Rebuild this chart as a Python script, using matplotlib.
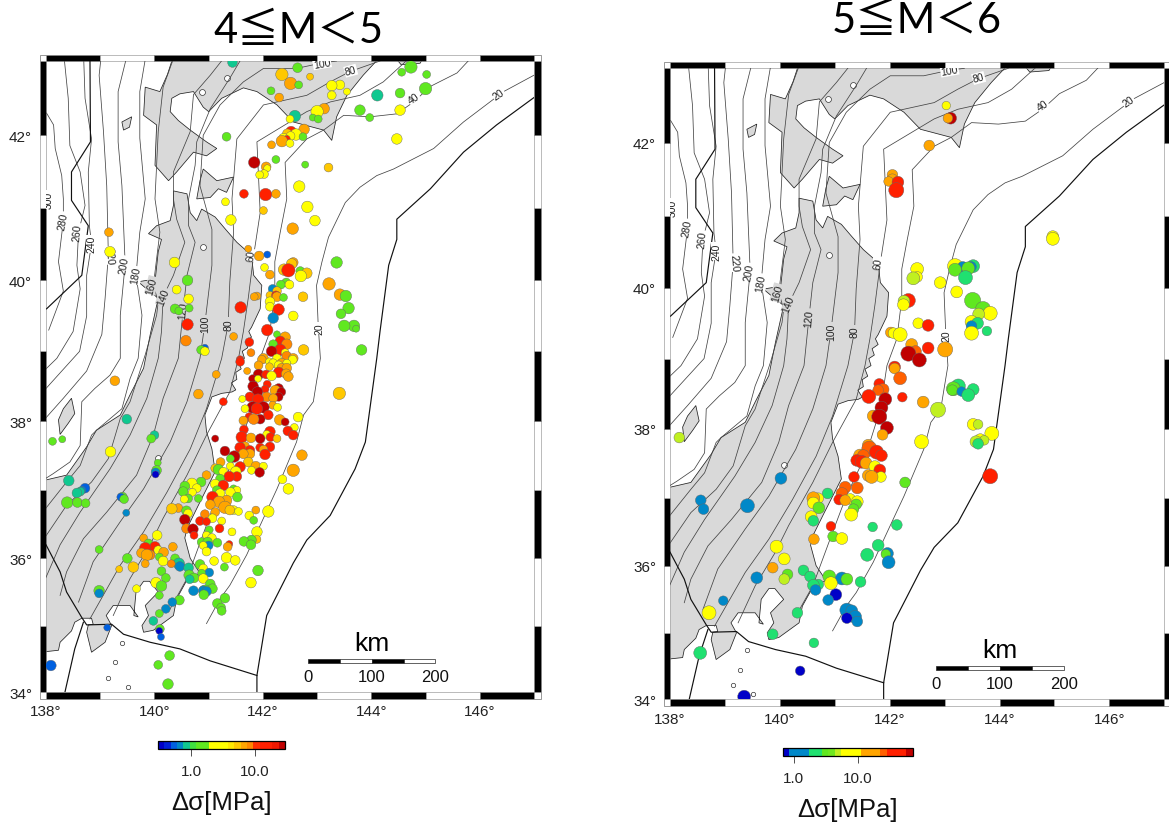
import numpy as np
import matplotlib
matplotlib.use('Agg')
import matplotlib.pyplot as plt
from matplotlib.cm import ScalarMappable
from matplotlib.colors import ListedColormap, LogNorm
from matplotlib.patches import Rectangle
from matplotlib.path import Path

plt.rcParams['font.family'] = ['Liberation Sans', 'DejaVu Sans']

# --- map geometry (lon, lat) ---
hokkaido = [(140.41,43.2),(140.24,42.82),(140.10,42.59),(139.83,42.65),(139.80,42.27),(140.04,42.14),(140.01,41.59),
            (140.26,41.38),(140.41,41.50),(140.72,41.77),(140.96,41.72),(141.15,41.82),(140.96,41.91),(140.66,42.07),
            (140.44,42.20),(140.29,42.32),(140.32,42.50),(140.47,42.56),(140.72,42.59),(140.90,42.38),(141.0,42.32),
            (141.24,42.50),(141.64,42.64),(141.89,42.59),(142.26,42.41),(142.56,42.18),(143.12,42.07),(143.27,41.93),
            (143.36,42.25),(143.55,42.54),(143.85,42.81),(144.35,43.2)]
hokkaido_east = [(144.38,43.1),(144.55,42.95),(144.9,42.97),(145.0,43.1)]
honshu = [(140.35,41.24),(140.60,41.20),(140.66,40.94),(140.78,40.83),(140.87,40.99),(141.12,40.88),(141.30,40.72),
          (141.52,40.53),(141.79,40.35),(141.83,40.07),(141.98,39.93),(141.95,39.60),(141.79,39.34),(141.74,39.28),
          (141.79,39.2),(141.68,39.14),(141.72,39.05),(141.62,39.0),(141.66,38.9),(141.55,38.85),(141.6,38.75),(141.5,38.7),
          (141.52,38.6),(141.42,38.55),(141.5,38.45),(141.43,38.42),(141.24,38.40),(141.06,38.35),(140.93,38.09),(140.96,37.85),
          (141.06,37.60),(141.12,37.27),(140.81,36.78),(140.60,36.44),(140.56,36.30),(140.66,36.0),(140.84,35.78),
          (140.60,35.68),(140.41,35.40),(140.35,35.15),(139.98,34.93),(139.80,34.90),(139.77,35.0),(139.89,35.15),
          (139.83,35.30),(140.07,35.50),(139.91,35.66),(139.80,35.66),(139.66,35.50),(139.62,35.15),(139.70,35.13),
          (139.55,35.30),(139.24,35.30),(139.11,35.15),(139.21,35.0),(139.09,34.75),(138.84,34.60),(138.75,34.90),
          (138.78,35.01),(138.87,35.02),(138.84,35.11),(138.66,35.11),(138.53,35.05),(138.47,34.92),(138.26,34.75),
          (138.23,34.63),(137.9,34.60),(137.9,37.15),(138.0,37.15),(138.38,37.22),(138.75,37.63),(138.93,37.87),
          (139.37,38.09),(139.55,38.38),(139.80,38.76),(139.92,39.23),(140.07,39.75),(139.95,39.82),(139.70,39.98),
          (139.86,40.0),(140.01,39.98),(140.07,40.40),(140.13,40.57),(139.89,40.65),(140.04,40.76),(140.29,40.83),
          (140.35,41.04)]
shimokita = [(140.90,41.54),(141.15,41.38),(141.46,41.43),(141.33,41.22),(141.18,41.27),(141.03,41.15),(140.78,41.13),(140.84,41.38)]
sado = [(138.47,38.33),(138.53,38.11),(138.41,37.97),(138.26,37.81),(138.23,38.02),(138.32,38.18)]
okushiri = [(139.43,42.07),(139.40,42.18),(139.58,42.25),(139.54,42.11)]
lake_lon = [141.33, 140.87, 140.89, 140.07]
lake_lat = [42.77, 42.59, 40.46, 37.47]
islet_lon = [139.40, 139.27, 139.15, 139.52]
islet_lat = [34.74, 34.45, 34.21, 34.08]

trench = [(147.0,42.51),(146.31,42.14),(145.70,41.77),(145.09,41.27),(144.47,40.85),(144.47,40.57),(144.32,40.21),
          (144.16,39.28),(144.10,38.90),(143.89,37.70),(143.70,37.31),(143.24,36.63),(142.81,36.27),(142.56,35.93),
          (142.29,35.5),(142.07,35.15),(141.89,34.25),(141.89,33.9)]
sagami = [(141.89,34.25),(141.03,34.47),(140.47,34.65),(139.92,34.75),(139.43,34.87),(139.21,35.02),(138.75,35.01),
          (138.66,35.12),(138.38,35.50),(138.26,35.80),(138.0,36.2)]
izu = [(138.69,35.05),(138.53,34.65),(138.35,34.0)]
sea_fault = [(138.81,43.15),(138.82,41.91),(138.47,41.50),(138.47,41.11),(138.78,40.76),(138.66,40.07),(138.01,39.6)]

c20 = [(147.0,42.81),(146.44,42.59),(145.70,42.18),(145.15,41.82),(144.41,41.54),(144.10,41.45),(143.79,41.29),(143.52,41.08),
       (143.21,40.60),(143.09,40.26),(142.99,39.93),(143.02,39.37),(143.06,38.90),(142.99,38.57),(142.93,38.28),(142.75,38.09),
       (142.62,37.70),(142.26,37.02),(142.01,36.59),(141.70,36.05),(141.39,35.60),(141.21,35.40),(140.96,35.03)]
c40 = [(145.98,43.15),(145.58,42.84),(145.09,42.66),(144.78,42.45),(144.47,42.29),(143.98,42.25),(143.49,42.27),(143.12,42.07),
       (142.81,41.95),(142.41,41.63),(142.44,41.13),(142.32,40.67),(142.22,40.26),(142.22,39.84),(142.13,39.28),(141.95,38.9),
       (141.83,38.28),(141.58,37.65),(141.21,37.02),(140.96,36.49),(140.60,35.7),(140.29,35.25)]
c60 = [(144.87,43.15),(144.22,42.72),(143.79,42.54),(143.24,42.45),(142.81,42.32),(141.89,41.91),(141.95,40.94),(141.83,40.35),
       (141.73,39.75),(141.64,39.28),(141.55,38.9),(141.39,38.42),(140.96,37.8),(140.60,37.22),(140.16,36.59),(139.92,36.2),
       (139.55,35.7),(139.24,35.15)]
c80 = [(144.16,43.0),(143.61,42.86),(143.24,42.72),(142.81,42.54),(142.01,42.41),(141.52,41.95),(141.43,41.13),(141.46,40.67),
       (141.39,39.98),(141.36,39.39),(141.24,38.9),(140.96,38.18),(140.66,37.6),(140.23,36.97),(139.80,36.39),(139.37,35.9),(138.81,35.1)]
c100 = [(143.36,43.0),(143.06,42.97),(142.62,42.90),(142.01,42.90),(141.64,42.72),(141.21,42.41),(140.90,42.0),(140.84,41.31),
        (141.06,40.71),(141.06,40.21),(140.93,39.39),(140.84,38.9),(140.60,38.28),(140.29,37.70),(139.80,37.02),(139.37,36.54),
        (138.87,35.95),(138.60,35.35)]
c120 = [(141.70,43.15),(141.39,42.77),(141.03,42.36),(140.78,41.91),(140.75,41.59),(140.63,41.13),(140.63,40.76),(140.75,40.53),
        (140.60,40.07),(140.53,39.58),(140.44,38.9),(140.16,38.33),(139.98,37.8),(139.67,37.22),(139.12,36.68),(138.69,36.29),
        (138.38,35.80),(138.26,35.45)]
c140 = [(141.4,43.15),(141.03,42.81),(140.72,42.55),(140.66,42.05),(140.35,41.50),(140.35,41.13),(140.41,40.85),(140.56,40.53),
        (140.35,40.07),(140.16,39.77),(140.13,39.28),(140.07,38.90),(139.86,38.33),(139.55,37.80),(139.18,37.31),(138.63,36.68),
        (138.26,36.20),(137.99,35.70)]
c160 = [(140.41,43.15),(140.16,42.65),(140.07,42.05),(140.01,41.13),(140.10,40.67),(139.98,39.93),(140.07,39.70),(140.04,39.51),
        (139.83,38.95),(139.55,38.28),(139.37,38.04),(139.15,37.46),(138.84,37.12),(138.38,36.78),(137.99,36.32)]
c180 = [(139.86,43.15),(139.73,42.59),(139.73,41.96),(139.83,41.13),(139.73,40.67),(139.66,40.07),(139.77,39.51),(139.70,38.90),
        (139.55,38.61),(139.40,38.18),(138.93,37.87),(138.84,37.80),(138.63,37.36),(138.38,37.12),(137.99,36.73)]
c200 = [(139.52,43.15),(139.33,42.59),(139.33,41.91),(139.40,41.31),(139.46,40.23),(139.37,39.51),(139.37,38.90),(139.18,38.66),
        (138.90,38.47),(138.66,38.28),(138.63,37.65),(138.44,37.41),(138.13,37.24),(137.99,37.17)]
c220 = [(139.03,43.15),(138.98,42.81),(139.06,42.05),(139.12,41.31),(139.15,40.35),(139.09,39.75),(139.03,39.24),(138.75,38.72),
        (138.32,38.33),(138.0,38.05)]
c240 = [(138.69,43.15),(138.72,42.50),(138.84,41.95),(138.78,41.50),(138.80,40.76),(138.84,40.51),(138.75,40.07),(138.75,39.5),
        (138.62,39.0),(138.0,38.47)]
c260 = [(138.32,43.15),(138.41,42.50),(138.44,41.86),(138.63,41.50),(138.72,41.04),(138.60,40.67),(138.57,40.21),(138.63,39.88),
        (138.50,39.28),(138.2,38.9),(138.0,38.75)]
c280 = [(138.01,42.30),(138.14,42.14),(138.17,41.82),(138.29,41.45),(138.32,41.13),(138.32,40.83),(138.23,40.26),(138.32,39.85),(138.05,39.30)]
depth_lines = [c20, c40, c60, c80, c100, c120, c140, c160, c180, c200, c220, c240, c260, c280]
# text, lon, lat, angle
depth_labels = [('280',138.31,40.83,80),('260',138.58,40.67,85),('240',138.84,40.51,90),('220',139.17,40.35,-85),
                ('200',139.44,40.22,80),('180',139.66,40.07,80),('160',139.95,39.93,75),('140',140.16,39.77,70),
                ('120',140.53,39.58,85),('100',140.93,39.39,90),('80',141.36,39.39,90),('60',141.79,40.35,85),
                ('40',144.78,42.5,35),('20',146.34,42.56,35),('20',143.04,39.33,90),('100',143.09,42.97,10),
                ('80',143.62,42.87,15),('300',138.05,41.12,90)]

# --- M4-5 events: (lon, lat, M), one list per colour class ---
l_dark = [(141.84,41.63,4.5),(140.56,36.57,4.4),(140.71,36.43,4.4),(141.12,37.75,4.0),(142.41,37.99,4.1),(141.47,37.49,4.5),
          (141.3,37.57,4.3),(141.95,37.75,4.3),(141.95,38.03,4.3),(142.16,39.0,4.4),(141.92,38.67,4.4),(141.81,38.61,4.1),
          (141.82,38.5,4.4),(141.9,38.42,4.4),(142.29,38.47,4.3),(142.34,38.42,4.2),(142.29,38.35,4.2),(142.01,38.2,4.5),
          (141.81,38.2,4.5),(141.94,37.26,4.3)]
l_red = [(142.52,42.05,4.4),(142.44,41.95,4.0),(141.65,41.2,4.2),(142.05,41.19,4.6),(142.47,40.14,4.7),(142.24,39.79,4.2),
         (142.29,39.59,4.5),(141.59,39.62,4.5),(140.61,39.38,4.5),(142.08,39.3,4.5),(141.75,39.13,4.2),(142.32,39.14,4.4),
         (142.32,39.02,4.5),(141.58,38.88,4.1),(141.58,38.85,4.2),(141.27,38.28,4.1),(142.46,37.86,4.3),(142.56,37.8,4.3),
         (140.73,36.34,4.1),(140.84,36.55,4.2),(140.96,36.54,4.1),(141.07,36.9,4.5),(141.27,37.07,4.4),(141.20,36.44,4.2),
         (141.38,37.2,4.4),(141.52,37.2,4.3),(141.58,37.34,4.4),(142.04,37.52,4.4),(141.95,37.62,4.2),(142.13,37.63,4.3),
         (141.61,37.77,4.5),(141.58,37.62,4.4),(141.76,37.58,4.3),(142.13,37.85,4.4),(142.14,37.77,4.2),(141.65,37.88,4.2),
         (141.75,38.06,4.2),(142.10,38.09,4.3),(142.06,38.67,4.2),(142.29,38.7,4.4),(142.08,38.53,4.1),(142.04,38.46,4.1),
         (141.76,38.35,4.3),(141.91,38.31,4.5),(141.89,38.18,4.5),(141.38,36.21,4.0),(139.83,36.15,4.5),(140.01,36.17,4.4)]
l_orange_red = [(140.58,39.15,4.4),(141.78,38.98,4.1),(142.44,39.1,4.4),(142.44,38.93,4.3),(141.83,38.03,4.4),(142.07,38.35,4.3),
                (139.92,36.05,4.3),(140.31,35.92,4.1),(140.59,36.44,4.3),(140.93,36.65,4.2)]
l_orange = [(142.51,42.70,4.6),(142.30,42.51,4.2),(143.13,42.36,4.4),(142.76,42.08,4.4),(142.35,41.92,4.5),(142.16,41.87,4.1),
            (142.06,41.57,4.3),(142.24,41.2,4.2),(142.55,40.72,4.5),(139.16,40.67,4.2),(141.73,40.44,4.0),(141.93,40.34,4.3),
            (142.56,40.25,4.3),(142.13,40.08,4.2),(143.22,39.95,4.6),(141.89,39.78,4.1),(141.84,39.77,4.1),(143.42,39.8,4.5),
            (142.26,39.77,4.3),(141.46,39.21,4.1),(142.41,39.2,4.4),(142.56,38.9,4.3),(142.01,38.9,4.3),(142.35,38.83,4.3),
            (139.27,38.58,4.3),(140.81,38.39,4.3),(141.14,38.67,4.1),(141.71,38.72,4.0),(142.31,38.02,4.4),(141.64,38.01,4.2),
            (142.72,37.51,4.4),(142.56,37.29,4.6),(141.87,36.71,4.1),(141.35,36.17,4.2),(139.80,36.3,4.1),(139.86,36.05,4.5),
            (139.76,36.08,4.3),(139.83,35.92,4.1),(140.17,36.09,4.3),(140.34,36.17,4.2),(140.44,36.74,4.2),(141.12,36.68,4.2),
            (141.03,36.79,4.3),(141.19,36.83,4.5),(141.33,36.85,4.4),(141.30,36.75,4.6),(140.96,37.22,4.2),(141.22,37.41,4.2),
            (141.64,37.53,4.3),(141.87,37.35,4.3),(142.01,37.59,4.2),(141.76,37.53,4.3),(141.67,37.64,4.2),(141.78,37.76,4.3),
            (142.43,38.68,4.3),(142.47,38.64,4.3),(142.23,38.44,4.4),(142.19,38.33,4.2),(142.18,38.23,4.1),(141.92,38.8,4.2),
            (141.98,38.88,4.2),(142.44,38.76,4.3),(142.35,38.76,4.3)]
l_gold = [(142.35,42.82,4.6),(142.87,42.79,4.0),(142.45,42.02,4.3),(143.21,41.56,4.2),(142.01,40.97,4.1),(142.53,40.23,4.4),
          (142.39,40.15,4.5),(142.81,40.1,4.4),(142.74,39.77,4.3),(142.13,39.79,4.1),(142.26,39.85,4.2),(142.75,39.02,4.4),
          (143.41,38.40,4.6),(142.26,37.75,4.1),(139.35,35.84,4.0),(139.61,35.87,4.4),(140.32,36.73,4.4),(141.12,37.32,4.2),
          (141.73,37.41,4.3),(142.12,38.78,4.1),(141.89,36.28,4.1),(141.39,36.71,4.3)]
l_yellow = [(143.27,42.67,4.4),(143.42,42.68,4.3),(143.27,42.54,4.2),(143.55,42.59,4.0),(144.53,42.34,4.4),(144.47,41.95,4.4),
            (143.0,42.32,4.6),(142.5,42.22,4.1),(142.61,42.01,4.5),(142.38,41.96,4.3),(142.51,41.99,4.2),(142.50,41.89,4.1),
            (142.08,41.55,4.0),(141.94,41.46,4.1),(142.02,41.47,4.2),(142.67,41.3,4.5),(141.31,41.09,4.1),(142.82,41.02,4.5),
            (142.96,40.83,4.4),(141.41,40.84,4.4),(139.18,40.40,4.4),(140.37,40.25,4.4),(142.03,40.18,4.1),(142.70,40.06,4.5),
            (142.49,39.94,4.2),(140.41,39.87,4.2),(140.63,39.74,4.3),(142.13,39.7,4.3),(142.13,39.63,4.2),(142.56,39.5,4.3),
            (140.93,39.0,4.2),(142.41,38.98,4.1),(142.26,38.9,4.2),(142.44,38.83,4.1),(142.12,38.85,4.1),(142.55,38.88,4.2),
            (142.29,38.8,4.2),(142.19,38.83,4.2),(142.65,38.06,4.3),(142.58,37.91,4.1),(139.19,37.56,4.4),(142.36,37.16,4.2),
            (142.47,37.02,4.4),(142.10,36.69,4.5),(141.75,36.63,4.2),(141.89,36.39,4.4),(141.43,36.39,4.1),(141.33,36.01,4.4),
            (141.49,35.97,4.3),(141.1,35.96,4.2),(141.78,35.64,4.4),(139.67,35.55,4.1),(140.05,36.34,4.3),(140.07,36.12,4.2),
            (140.16,35.96,4.3),(140.03,35.64,4.4),(140.90,35.85,4.2),(140.90,35.7,4.3),(140.69,37.1,4.4),(140.78,37.03,4.2),
            (140.70,36.97,4.1),(140.55,36.87,4.1),(140.62,36.66,4.2),(141.07,36.59,4.2),(141.21,36.95,4.3),(141.12,37.09,4.3),
            (141.40,36.97,4.3),(141.52,37.0,4.1),(141.46,36.71,4.2),(141.55,36.69,4.1),(141.24,36.55,4.1),(140.96,36.34,4.1),
            (141.06,36.3,4.2),(140.96,36.1,4.2),(140.9,36.19,4.1),(141.5,37.27,4.4),(141.27,37.27,4.2),(141.4,37.35,4.1),
            (141.79,37.29,4.1),(142.01,37.35,4.1),(142.07,37.81,4.1),(142.16,38.65,4.3),(141.91,38.61,4.0),(141.67,38.18,4.1),
            (142.27,38.2,4.1),(141.62,38.32,4.0)]
l_green = [(142.64,42.91,4.3),(142.66,42.68,4.1),(142.15,42.60,4.1),(144.73,42.92,4.6),(144.56,42.85,4.1),(145.02,42.82,4.1),
           (145.0,42.63,4.6),(144.53,42.57,4.3),(143.79,42.34,4.4),(143.97,42.24,4.1),(142.92,42.24,4.0),(143.02,42.22,4.1),
           (141.33,41.98,4.2),(142.74,41.98,4.1),(142.24,41.67,4.1),(142.78,41.60,4.0),(143.36,40.25,4.5),(142.69,40.13,4.2),
           (140.61,40,4.4),(142.33,39.94,4.2),(142.43,39.97,4.2),(143.53,39.78,4.5),(142.38,39.76,4.1),(140.64,39.61,4.1),
           (140.38,39.6,4.3),(140.45,39.57,4.1),(143.58,39.61,4.5),(143.44,39.53,4.3),(143.5,39.36,4.5),(143.68,39.36,4.5),
           (143.72,39.32,4.0),(142.26,39.24,4.0),(143.82,39.02,4.4),(140.86,39.02,4.2),(142.19,39.1,4.2),(139.94,37.75,4.2),
           (138.12,37.71,4.1),(138.30,37.74,4.0),(140.06,37.4,4.0),(140.04,37.29,4.3),(138.39,36.82,4.5),(138.58,36.82,4.3),
           (138.73,36.81,4.2),(139.41,36.90,4.3),(139.44,36.87,4.2),(141.83,36.56,4.1),(141.65,36.25,4.3),(141.79,36.27,4.3),
           (141.78,36.2,4.3),(141.29,35.87,4.1),(141.91,35.82,4.4),(141.30,35.41,4.3),(141.16,35.33,4.3),(141.23,35.27,4.2),
           (141.24,35.22,4.2),(138.98,36.13,4.1),(139.5,36,4.3),(138.98,35.52,4.4),(140.09,35.18,4.1),(140.46,35.38,4.3),
           (140.10,34.95,4.2),(140.28,34.55,4.3),(140.07,34.41,4.2),(140.25,34.12,4.4),(139.89,36.22,4.2),(140.09,36.02,4.1),
           (140.13,35.81,4.2),(140.21,35.71,4.2),(140.13,35.59,4.4),(140.09,35.45,4.1),(140.38,36,4.2),(140.64,35.75,4.4),
           (140.73,35.71,4.3),(140.84,35.91,4.3),(140.87,35.78,4.1),(141.03,35.62,4.3),(140.93,35.52,4.5),(141.07,35.55,4.3),
           (140.91,35.46,4.3),(140.56,37.06,4.3),(140.86,37.12,4.3),(140.53,36.98,4.3),(140.62,36.88,4.2),(140.81,36.88,4.1),
           (140.59,36.7,4.3),(141.15,37.0,4.2),(141.53,36.9,4.3),(141.46,37.02,4.1),(141.01,36.42,4.1),(140.87,36.24,4.2),
           (140.98,36.24,4.3),(141.16,36.23,4.2),(141.18,37.3,4.4),(141.21,37.17,4.2),(141.4,37.46,4.1)]
l_spring = [(141.44,42.98,4.3),(144.11,42.54,4.5),(142.59,42.26,4.5),(139.49,38.03,4.3),(140,37.8,4.2),(138.42,37.14,4.4),
            (138.57,36.96,4.3),(138.63,36.98,4.2),(139.98,35.07,4.2),(140.45,35.92,4.5),(140.63,35.86,4.3),(140.65,35.69,4.2)]
l_teal = [(142.18,39.88,4.2),(142.19,39.47,4.4),(140.02,37.26,4.2),(138.66,37.0,4.1),(139.48,36.67,4.0),(138.98,35.48,4.2),
          (140.21,35.25,4.2),(140.33,35.35,4.2),(140.47,35.88,4.3),(141.01,35.79,4.2),(140.72,35.52,4.3),(140.90,35.52,4.3),
          (140.96,35.51,4.3),(141,36.19,4.2)]
l_blue = [(142.08,40.36,4.0),(140.93,39.05,4.0),(138.72,37.03,4.3),(139.38,36.90,4.1),(139.13,34.97,4.0),(140.12,34.83,4.0),(138.09,34.40,4.4)]
l_deep = [(140.02,37.23,4.0),(140.09,34.92,4.0)]
# stress drop of each colour class, MPa
l_sig = [26.7, 13.4, 8.4, 6.7, 5.3, 2.67, 1.34, 0.84, 0.67, 0.53, 0.34]

# --- M5-6 events ---
r_dark = [(143.11,42.33,5.3),(142.34,39.07,5.6),(142.54,38.98,5.5),(141.92,38.42,5.4),(141.85,38.3,5.4),(141.81,38.17,5.6),(141.95,38.01,5.4)]
r_red = [(142.15,41.46,5.3),(142.12,41.35,5.6),(142.34,39.82,5.5),(142.7,39.47,5.3),(142.7,39.15,5.3),(142.09,38.88,5.3),(141.81,38.64,5.2),
         (141.62,38.46,5.5),(142.23,38.45,5.1),(143.83,37.31,5.6),(141.76,37.66,5.5),(141.85,37.61,5.3),(141.4,37.54,5.3),(141.49,37.52,5.4),
         (141.82,37.4,5.3),(141.35,37.3,5.2),(141.08,36.97,5.2),(140.93,36.58,5.1)]
r_orange_red = [(142.47,39.1,5.3),(142.19,38.72,5.4),(141.88,38.56,5.3),(141.79,38.55,5.2),(141.63,37.71,5.6),(141.52,37.61,5.3),
                (141.19,37.15,5.3),(141.41,37.14,5.3),(141.13,37.06,5.3)]
r_orange = [(143.06,42.33,5.1),(142.72,41.96,5.2),(142.05,41.56,5.2),(142.05,41.5,5.2),(141.98,41.47,5.1),(142.02,39.37,5.2),(142.4,39.2,5.3),
            (143.01,39.13,5.6),(142.09,38.86,5.2),(142.61,38.38,5.3),(141.70,38.18,5.3),(141.87,37.91,5.2),(141.61,37.76,5.3),(141.46,37.61,5.4),
            (141.57,37.5,5.3),(141.61,37.32,5.3),(141.67,37.3,5.4),(141.19,36.96,5.2),(140.61,36.99,5.4),(140.62,36.39,5.2),(139.87,35.97,5.2)]
r_yellow = [(143.03,42.5,5.0),(144.97,40.68,5.4),(144.97,40.71,5.3),(142.50,40.26,5.4),(142.50,40.15,5.2),(143.19,40.3,5.6),(142.92,40.07,5.3),
            (143.22,39.94,5.3),(143.83,39.64,5.5),(143.49,39.52,5.4),(143.49,39.36,5.5),(142.25,39.76,5.3),(142.52,39.5,5.2),(142.19,39.34,5.5),
            (142.07,39.36,5.2),(143.17,38.59,5.0),(143.52,38.06,5.3),(143.65,37.84,5.3),(143.86,37.93,5.5),(142.58,37.81,5.5),(141.73,37.45,5.3),
            (141.84,37.3,5.2),(141.28,36.98,5.2),(141.41,36.94,5.3),(141.30,36.75,5.4),(140.7,36.99,5.2),(140.61,36.92,5.3),(140.57,36.72,5.3),
            (141.13,36.4,5.3),(139.94,36.28,5.4),(140.08,36.1,5.3),(138.71,35.3,5.5),(140.93,35.74,5.4)]
r_lime = [(142.43,40.13,5.4),(143.62,39.63,5.3),(142.26,39.81,5.3),(142.88,38.27,5.6),(143.61,38.06,5.1),(143.57,37.81,5.3),(143.72,37.83,5.1),
          (138.17,37.87,5.2),(140.08,35.8,5.2)]
r_green = [(143.19,40.25,5.4),(143.43,40.27,5.4),(143.51,39.82,5.7),(143.7,39.7,5.6),(143.16,38.57,5.5),(143.14,38.55,5.2),(142.28,37.22,5.2),
           (141.39,36.9,5.2),(141.34,36.83,5.2),(140.71,36.85,5.3),(140.97,36.43,5.2),(141.93,36.17,5.1),(140.14,35.87,5.2),(140.9,35.84,5.4),
           (141.22,35.8,5.3)]
r_spring = [(143.52,40.3,5.4),(143.38,40.14,5.5),(143.6,39.5,5.3),(143.77,39.39,5.1),(143.25,38.61,5.5),(143.43,38.48,5.4),(143.52,38.56,5.3),
            (143.61,37.78,5.2),(140.87,37.06,5.2),(140.61,36.66,5.2),(141.69,36.57,5.1),(142.13,36.6,5.2),(141.79,36.3,5.3),(141.59,36.16,5.4),
            (138.55,34.7,5.4),(140.43,35.93,5.2),(140.55,35.84,5.2),(140.61,35.71,5.3),(140.7,35.72,5.2),(141.47,35.76,5.2),(140.32,35.3,5.2),
            (139.87,34.98,5.2),(140.62,34.85,5.1)]
r_teal = [(143.48,40.29,5.2),(143.33,40.29,5.2),(143.49,39.46,5.2),(143.31,38.53,5.1),(140.02,37.28,5.3),(138.56,36.96,5.2),(138.61,36.83,5.2),
          (139.41,36.88,5.5),(141.96,36.18,5.3),(141.98,36.05,5.4),(139.58,35.82,5.3),(138.97,35.48,5.1),(140.65,35.64,5.2),(141.13,35.81,5.4),
          (140.88,35.49,5.2),(141.22,35.34,5.5),(141.31,35.33,5.3),(141.37,35.24,5.4),(141.41,35.17,5.2)]
r_deep = [(141.02,35.57,5.3),(141.22,35.22,5.2),(140.37,34.43,5.1),(139.35,34.04,5.4)]
r_sig = [60, 38, 24, 15, 7.6, 4.8, 3.0, 1.9, 1.2, 0.76]

# 20 colour cells of each scale bar
l_cells = ['#0000c8','#0020d8','#0060e0','#0088c8','#10c890','#40e040','#60e820','#60e820','#ffff00','#ffff00',
           '#ffff00','#ffe800','#ffc800','#ffa500','#ff8800','#ff3000','#ff2000','#ff2000','#f01800','#c00000']
r_cells = ['#0000c8','#0088c8','#0088c8','#0088c8','#20e070','#20e070','#60e820','#70e820','#c0f020','#ffff00',
           '#ffff00','#ffff00','#ffa500','#ffa500','#ffa500','#ff6000','#ff2000','#ff2000','#ff2000','#c00000']

l_groups = [l_dark, l_red, l_orange_red, l_orange, l_gold, l_yellow, l_green, l_spring, l_teal, l_blue, l_deep]
r_groups = [r_dark, r_red, r_orange_red, r_orange, r_yellow, r_lime, r_green, r_spring, r_teal, r_deep]
lat_ticks = [34, 36, 38, 40, 42]
lon_ticks = [138, 140, 142, 144, 146]
km_marks = [0, 50, 100, 150, 200]
deg_per_km = 0.0117


def merc(lat):
    return np.degrees(np.arcsinh(np.tan(np.radians(lat))))


def merc_inv(m):
    return np.degrees(np.arctan(np.sinh(np.radians(m))))


W, H = 1169, 828
fig = plt.figure(figsize=(W / 100, H / 100), dpi=100, facecolor='white')
honshu_path = Path(honshu)


def draw_panel(x0, x1, y0, y1, groups, sig, mag0, d0, dk, cells, vmin, vmax, cbar_box, label_y, title, title_xy):
    ax = fig.add_axes([x0 / W, 1 - y1 / H, (x1 - x0) / W, (y1 - y0) / H])
    ax.set_yscale('function', functions=(merc, merc_inv))
    ax.set_xlim(138, 147)
    ax.set_ylim(34, 43)
    ax.minorticks_off()

    for poly in [hokkaido, hokkaido_east, honshu, shimokita, sado, okushiri]:
        xy = np.array(poly)
        ax.fill(xy[:, 0], xy[:, 1], facecolor='#d9d9d9', edgecolor='#222222', lw=0.55, zorder=1)
    ax.scatter(lake_lon, lake_lat, s=18, c='white', edgecolors='#333333', linewidths=0.5, zorder=1.5)
    ax.scatter(islet_lon, islet_lat, s=10, c='white', edgecolors='#333333', linewidths=0.5, zorder=1.5)

    for line in depth_lines:
        xy = np.array(line)
        ax.plot(xy[:, 0], xy[:, 1], color='#444444', lw=0.55, zorder=2)
    for line in [trench, sagami, izu, sea_fault]:
        xy = np.array(line)
        ax.plot(xy[:, 0], xy[:, 1], color='#111111', lw=0.85, zorder=2)
    for txt, lon, lat, ang in depth_labels:
        bg = '#d9d9d9' if honshu_path.contains_point((lon, lat)) else 'white'
        ax.text(lon, lat, txt, fontsize=7.5, rotation=ang, ha='center', va='center', zorder=3, color='#222222',
                clip_on=True, bbox=dict(fc=bg, ec='none', pad=0.4))

    # events, drawn from north to south so that classes interleave
    cmap = ListedColormap(cells)
    norm = LogNorm(vmin, vmax)
    pts = np.array([(p[0], p[1], p[2], v) for g, v in zip(groups, sig) for p in g])
    pts = pts[np.argsort(-pts[:, 1])]
    diam = d0 + dk * (pts[:, 2] - mag0)
    ax.scatter(pts[:, 0], pts[:, 1], s=(diam * 0.72) ** 2, c=pts[:, 3], cmap=cmap, norm=norm,
               edgecolors='#666666', linewidths=0.3, zorder=4)

    # km scale
    lon0 = 142.84
    for i in range(len(km_marks) - 1):
        ax.add_patch(Rectangle((lon0 + km_marks[i] * deg_per_km, 34.44), (km_marks[i + 1] - km_marks[i]) * deg_per_km, 0.06,
                               facecolor='black' if i % 2 == 0 else 'white', edgecolor='#222222', lw=0.5, zorder=5))
    for km in km_marks[::2]:
        ax.text(lon0 + km * deg_per_km, 34.24, str(km), fontsize=12, ha='center', va='center', color='#111111')
    ax.text(lon0 + 100 * deg_per_km, 34.74, 'km', fontsize=19, ha='center', va='center', color='black')

    # frame: alternating 1 degree cells
    fw = 6.5 / (x1 - x0)
    fh = 6.5 / (y1 - y0)
    xt = ax.get_xaxis_transform()
    yt = ax.get_yaxis_transform()
    for lon in range(138, 147):
        col = 'black' if (lon % 2 == 0) else 'white'
        for yb in (-fh, 1):
            ax.add_patch(Rectangle((lon, yb), 1, fh, transform=xt, clip_on=False, facecolor=col, edgecolor='#888888', lw=0.4))
    for lat in range(34, 43):
        col = 'black' if (lat % 2 == 0) else 'white'
        for xb in (-fw, 1):
            ax.add_patch(Rectangle((xb, lat), fw, 1, transform=yt, clip_on=False, facecolor=col, edgecolor='#888888', lw=0.4))
    for xb in (-fw, 1):
        for yb in (-fh, 1):
            ax.add_patch(Rectangle((xb, yb), fw, fh, transform=ax.transAxes, clip_on=False, facecolor='white', edgecolor='#888888', lw=0.6))

    for s in ax.spines.values():
        s.set_visible(False)
    ax.set_xticks(lon_ticks)
    ax.set_xticklabels(['%d°' % v for v in lon_ticks], fontsize=11, color='#222222')
    ax.set_yticks(lat_ticks)
    ax.set_yticklabels(['%d°' % v for v in lat_ticks], fontsize=11, color='#222222')
    ax.tick_params(axis='x', length=0, pad=9)
    ax.tick_params(axis='y', length=0, pad=10)
    ax.minorticks_off()

    # colour scale
    bx0, bx1, by0, by1 = cbar_box
    cax = fig.add_axes([bx0 / W, 1 - by1 / H, (bx1 - bx0) / W, (by1 - by0) / H])
    cb = fig.colorbar(ScalarMappable(norm=norm, cmap=cmap), cax=cax, orientation='horizontal')
    cb.set_ticks([1, 10], labels=['1.0', '10.0'])
    cb.minorticks_off()
    cax.tick_params(length=5, width=0.6, labelsize=11, pad=6, color='#333333', labelcolor='#222222')
    cb.outline.set_linewidth(0.9)
    fig.text((bx0 + bx1) / 2 / W, 1 - label_y / H, '\u0394\u03c3[MPa]', fontsize=18.5, ha='center', va='center', color='#111111')

    fig.text(title_xy[0] / W, 1 - title_xy[1] / H, title, fontsize=30, ha='center', va='center', color='black',
             family=['Lato', 'Noto Sans CJK JP', 'DejaVu Sans'])


draw_panel(46, 534, 62, 693, l_groups, l_sig, 4.0, 7, 9, l_cells, 0.3, 30, (158, 285, 742, 750), 803,
           '4\u2266M\uff1c5', (298, 31))
draw_panel(670, 1164.3, 69.3, 700.3, r_groups, r_sig, 5.0, 8.5, 11, r_cells, 0.68, 70, (782.7, 912.7, 749, 757), 810,
           '5\u2266M\uff1c6', (917, 21))

fig.savefig('out.png', dpi=100)
